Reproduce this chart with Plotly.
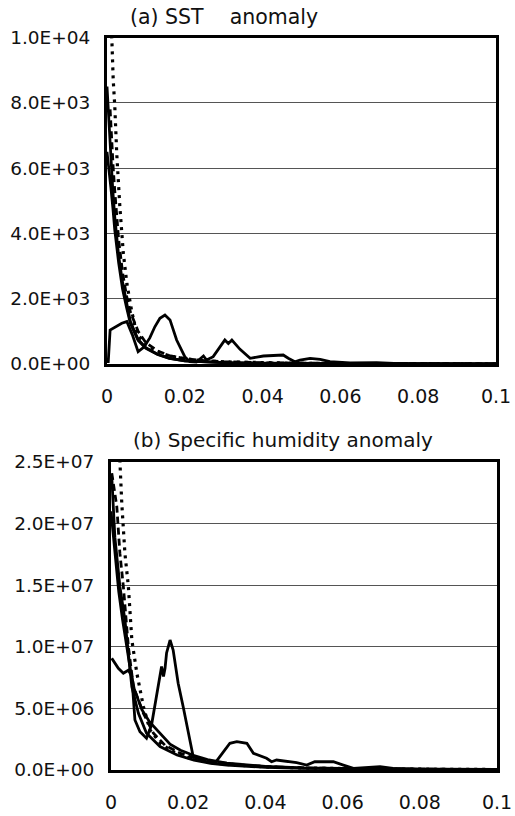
import plotly.graph_objects as go

# ---------------- Panel (a): SST anomaly ----------------
a_peak_x = [0.0003, 0.0008, 0.0038, 0.0051, 0.0065, 0.0076, 0.008, 0.0095, 0.0110, 0.0123, 0.0136,
            0.0149, 0.0162, 0.0179, 0.0200, 0.0213, 0.0230, 0.0248, 0.0256, 0.0273, 0.0290, 0.0303,
            0.0312, 0.0321, 0.0342, 0.0368, 0.0402, 0.0453, 0.0466, 0.0483, 0.0496, 0.0522, 0.0548,
            0.0573, 0.0625, 0.0693, 0.0753, 0.085, 0.1]
a_peak_y = [30, 1040, 1250, 1300, 900, 530, 380, 520, 800, 1140, 1400,
            1500, 1350, 735, 225, 70, 60, 245, 120, 225, 530, 735,
            630, 735, 450, 175, 245, 275, 175, 70, 120, 175, 145,
            70, 30, 40, 10, 5, 0]

a_dot_x = [0.0010, 0.0012, 0.0016, 0.0020, 0.0025, 0.0033, 0.0042, 0.0051, 0.0063, 0.0076, 0.010,
           0.013, 0.016, 0.020, 0.025, 0.030, 0.040, 0.050, 0.070, 0.100]
a_dot_y = [10800, 10000, 8700, 7900, 6450, 4820, 3390, 2470, 1650, 940, 600,
           380, 250, 160, 100, 65, 35, 22, 12, 6]

a_dash_x = [0.0008, 0.0012, 0.0016, 0.0020, 0.0025, 0.0030, 0.0040, 0.0050, 0.0060, 0.0080, 0.010,
            0.013, 0.016, 0.020, 0.025, 0.030, 0.040, 0.050, 0.070, 0.100]
a_dash_y = [7800, 6800, 6000, 5300, 4500, 3800, 2800, 2100, 1600, 1000, 650,
            400, 260, 165, 105, 70, 38, 24, 12, 6]

a_sol1_x = [0.0, 0.0005, 0.0010, 0.0015, 0.0020, 0.0030, 0.0040, 0.0050, 0.0060, 0.0080, 0.010,
            0.013, 0.016, 0.020, 0.025, 0.030, 0.040, 0.050, 0.070, 0.100]
a_sol1_y = [8500, 7300, 6200, 5300, 4500, 3300, 2500, 1900, 1300, 750, 500,
            300, 180, 100, 60, 40, 22, 14, 8, 4]

a_sol2_x = [0.0, 0.0005, 0.0010, 0.0015, 0.0020, 0.0030, 0.0040, 0.0050, 0.0060, 0.0080, 0.010,
            0.013, 0.016, 0.020, 0.025, 0.030, 0.040, 0.050, 0.070, 0.100]
a_sol2_y = [6500, 6000, 5400, 4800, 4100, 3100, 2300, 1750, 1250, 720, 480,
            290, 175, 100, 62, 42, 24, 15, 9, 5]

# ---------------- Panel (b): Specific humidity anomaly ----------------
b_peak_x = [0.0002, 0.0006, 0.0019, 0.0032, 0.0045, 0.0054, 0.0058, 0.0062, 0.0075, 0.0092, 0.0105,
            0.0118, 0.0131, 0.0136, 0.0140, 0.0144, 0.0153, 0.0161, 0.0174, 0.0187, 0.0200, 0.0213,
            0.0248, 0.0269, 0.0282, 0.0308, 0.0326, 0.0352, 0.0369, 0.0403, 0.0416, 0.0429, 0.0481,
            0.0507, 0.0528, 0.0576, 0.0602, 0.0628, 0.0697, 0.0731, 0.080, 0.100]
b_peak_y = [9.07e6, 8.9e6, 8.25e6, 7.85e6, 8.1e6, 7.6e6, 5.95e6, 4.06e6, 3.1e6, 2.57e6, 3.65e6,
            5.95e6, 8.4e6, 7.6e6, 8.25e6, 9.5e6, 10.55e6, 9.74e6, 7.04e6, 5.14e6, 3.25e6, 1.08e6,
            0.67e6, 0.54e6, 1.08e6, 2.17e6, 2.3e6, 2.17e6, 1.35e6, 0.95e6, 0.67e6, 0.81e6, 0.59e6,
            0.4e6, 0.67e6, 0.67e6, 0.4e6, 0.14e6, 0.27e6, 0.14e6, 0.05e6, 0.02e6]

b_dot_x = [0.0021, 0.0023, 0.0028, 0.0036, 0.0045, 0.0054, 0.0067, 0.0084, 0.0101, 0.013, 0.016,
           0.020, 0.025, 0.030, 0.040, 0.050, 0.070, 0.100]
b_dot_y = [26.5e6, 24.9e6, 21.6e6, 17.6e6, 14.9e6, 10.55e6, 7.85e6, 5.14e6, 3.25e6, 2.1e6, 1.5e6,
           1.0e6, 0.65e6, 0.45e6, 0.25e6, 0.16e6, 0.08e6, 0.04e6]

b_dash_x = [0.0002, 0.0015, 0.0023, 0.0032, 0.0045, 0.0058, 0.0084, 0.011, 0.014, 0.018, 0.022,
            0.027, 0.033, 0.040, 0.050, 0.070, 0.100]
b_dash_y = [24.1e6, 21.4e6, 17.6e6, 14.9e6, 10.0e6, 6.76e6, 4.6e6, 2.98e6, 2.0e6, 1.35e6, 0.95e6,
            0.65e6, 0.42e6, 0.28e6, 0.17e6, 0.08e6, 0.04e6]

b_sol1_x = [0.0002, 0.0010, 0.0023, 0.0036, 0.0045, 0.0054, 0.0071, 0.0092, 0.0127, 0.0171, 0.0215,
            0.0258, 0.030, 0.040, 0.050, 0.070, 0.100]
b_sol1_y = [23.8e6, 18.9e6, 14.9e6, 12.2e6, 9.47e6, 6.76e6, 4.6e6, 2.98e6, 1.9e6, 1.22e6, 0.81e6,
            0.54e6, 0.4e6, 0.22e6, 0.14e6, 0.07e6, 0.03e6]

b_sol2_x = [0.0, 0.0010, 0.0020, 0.0030, 0.0040, 0.0050, 0.0060, 0.0080, 0.010, 0.0127, 0.0153,
            0.018, 0.0213, 0.025, 0.030, 0.040, 0.050, 0.070, 0.100]
b_sol2_y = [21e6, 17.5e6, 14.5e6, 12.2e6, 10.2e6, 8.2e6, 6.6e6, 4.9e6, 3.9e6, 3.0e6, 2.1e6,
            1.6e6, 1.2e6, 0.85e6, 0.55e6, 0.3e6, 0.18e6, 0.09e6, 0.04e6]

# ---------------- Axis ticks ----------------
x_tickvals = [0, 0.02, 0.04, 0.06, 0.08, 0.1]
x_ticktext = ["0", "0.02", "0.04", "0.06", "0.08", "0.1"]
a_tickvals = [0, 2000, 4000, 6000, 8000, 10000]
a_ticktext = ["0.0E+00", "2.0E+03", "4.0E+03", "6.0E+03", "8.0E+03", "1.0E+04"]
b_tickvals = [0, 5e6, 10e6, 15e6, 20e6, 25e6]
b_ticktext = ["0.0E+00", "5.0E+06", "1.0E+07", "1.5E+07", "2.0E+07", "2.5E+07"]

title_a = "(a) SST    anomaly"
title_b = "(b) Specific humidity anomaly"

SOLID = dict(color="black", width=2.8)
DASH = dict(color="black", width=2.8, dash="7px,4px")
DOT = dict(color="black", width=3.2, dash="3px,5px")

fig = go.Figure()

def add(x, y, line, xa, ya):
    fig.add_trace(go.Scatter(x=x, y=y, mode="lines", line=line, xaxis=xa, yaxis=ya,
                             showlegend=False, hoverinfo="skip"))

add(a_sol2_x, a_sol2_y, SOLID, "x", "y")
add(a_sol1_x, a_sol1_y, SOLID, "x", "y")
add(a_dash_x, a_dash_y, DASH, "x", "y")
add(a_dot_x, a_dot_y, DOT, "x", "y")
add(a_peak_x, a_peak_y, SOLID, "x", "y")

add(b_sol2_x, b_sol2_y, SOLID, "x2", "y2")
add(b_sol1_x, b_sol1_y, SOLID, "x2", "y2")
add(b_dash_x, b_dash_y, DASH, "x2", "y2")
add(b_dot_x, b_dot_y, DOT, "x2", "y2")
add(b_peak_x, b_peak_y, SOLID, "x2", "y2")

W, H = 515, 816
FONT = "DejaVu Sans"
TXT = "#111111"

def xax(dom, anchor):
    return dict(domain=dom, anchor=anchor, range=[0, 0.1], tickvals=x_tickvals, ticktext=x_ticktext,
                showgrid=False, zeroline=False, showline=True, mirror=True, linecolor="black",
                linewidth=3, ticks="", ticklabelstandoff=13, automargin=False,
                tickfont=dict(family=FONT, size=19, color=TXT))

def yax(dom, anchor, rng, tv, tt):
    return dict(domain=dom, anchor=anchor, range=rng, tickvals=tv, ticktext=tt,
                showgrid=True, gridcolor="#555555", gridwidth=1, zeroline=False,
                showline=True, mirror=True, linecolor="black", linewidth=3, ticks="",
                ticklabelstandoff=10, automargin=False,
                tickfont=dict(family=FONT, size=18.5, color=TXT))

fig.update_layout(
    width=W, height=H, margin=dict(l=0, r=0, t=0, b=0, autoexpand=False),
    paper_bgcolor="white", plot_bgcolor="white",
    xaxis=xax([107 / W, 496 / W], "y"),
    yaxis=yax([1 - 364 / H, 1 - 37.5 / H], "x", [0, 10000], a_tickvals, a_ticktext),
    xaxis2=xax([111 / W, 497 / W], "y2"),
    yaxis2=yax([1 - 770 / H, 1 - 462 / H], "x2", [0, 25e6], b_tickvals, b_ticktext),
    annotations=[
        dict(text=title_a, x=224 / W, y=1 - 16.7 / H, xref="paper", yref="paper",
             xanchor="center", yanchor="middle", showarrow=False,
             font=dict(family=FONT, size=20.5, color=TXT)),
        dict(text=title_b, x=283 / W, y=1 - 440 / H, xref="paper", yref="paper",
             xanchor="center", yanchor="middle", showarrow=False,
             font=dict(family=FONT, size=20, color=TXT)),
    ],
)

fig.write_html("out.html", config={"displayModeBar": False},
               post_script="document.body.style.margin='0';document.body.style.padding='0';")
